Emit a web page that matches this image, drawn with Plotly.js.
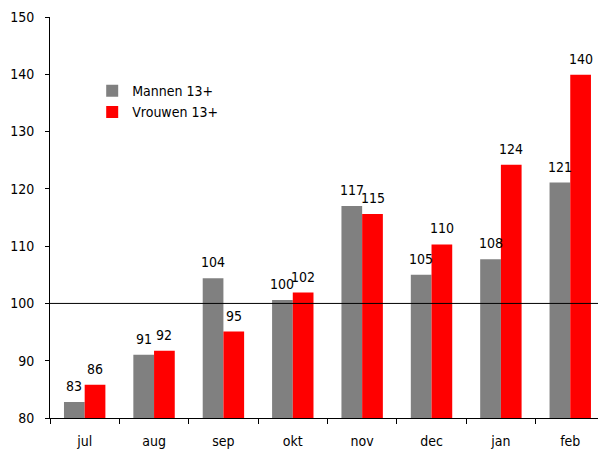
<!DOCTYPE html>
<html>
<head>
<meta charset="utf-8">
<script src="https://cdn.plot.ly/plotly-3.0.1.min.js"></script>
<style>html,body{margin:0;padding:0;background:#fff;}#chart{width:598px;height:449px;}</style>
</head>
<body>
<div id="chart"></div>
<script>
const months = ["jul","aug","sep","okt","nov","dec","jan","feb"];
const mannen = [82.8, 91.05, 104.4, 100.6, 117.0, 105.0, 107.7, 121.1];
const vrouwen = [85.8, 91.75, 95.1, 101.9, 115.6, 110.3, 124.2, 139.9];
const mannenLabels = ["83","91","104","100","117","105","108","121"];
const vrouwenLabels = ["86","92","95","102","115","110","124","140"];
const yTicks = [80, 90, 100, 110, 120, 130, 140, 150];

const FONT = '"DejaVu Sans Condensed", "DejaVu Sans", sans-serif';
const bargap = 0.403;
const half = (1 - bargap) / 4;

const annotations = [];
months.forEach((m, i) => {
  annotations.push({x: i - half, y: mannen[i], xref: 'x', yref: 'y', text: mannenLabels[i],
    showarrow: false, yanchor: 'bottom', yshift: 6, font: {family: FONT, size: 14, color: '#000'}});
  annotations.push({x: i + half, y: vrouwen[i], xref: 'x', yref: 'y', text: vrouwenLabels[i],
    showarrow: false, yanchor: 'bottom', yshift: 6, font: {family: FONT, size: 14, color: '#000'}});
});

const data = [
  {type: 'bar', name: 'Mannen 13+', x: months, y: mannen, marker: {color: '#808080'}, hoverinfo: 'none'},
  {type: 'bar', name: 'Vrouwen 13+', x: months, y: vrouwen, marker: {color: '#FF0000'}, hoverinfo: 'none'}
];

const layout = {
  width: 598, height: 449,
  margin: {l: 50, r: 0, t: 17, b: 31},
  paper_bgcolor: '#fff', plot_bgcolor: '#fff',
  barmode: 'group', bargap: bargap, bargroupgap: 0,
  font: {family: FONT, size: 14, color: '#000'},
  showlegend: true,
  legend: {x: 0.077, y: 0.855, xanchor: 'left', yanchor: 'top', bgcolor: 'rgba(0,0,0,0)',
    font: {family: FONT, size: 14, color: '#000'}, tracegroupgap: 0},
  xaxis: {type: 'category', range: [-0.5, 7.4], showline: true, linecolor: '#000', linewidth: 1,
    ticks: 'outside', tickson: 'boundaries', ticklen: 5, tickcolor: '#000', showgrid: false,
    zeroline: false, ticklabelstandoff: 10, tickfont: {family: FONT, size: 14}, fixedrange: true},
  yaxis: {range: [80, 150], tickvals: yTicks, ticktext: yTicks.map(String), showline: true,
    linecolor: '#000', linewidth: 1, ticks: 'outside', ticklen: 4, tickcolor: '#000',
    showgrid: false, zeroline: false, ticklabelstandoff: 8, tickfont: {family: FONT, size: 14}, fixedrange: true},
  shapes: [{type: 'line', xref: 'paper', x0: 0, x1: 1, yref: 'y', y0: 100, y1: 100,
    line: {color: '#000', width: 1}}],
  annotations: annotations
};

Plotly.newPlot('chart', data, layout, {displayModeBar: false, staticPlot: true});
</script>
</body>
</html>
